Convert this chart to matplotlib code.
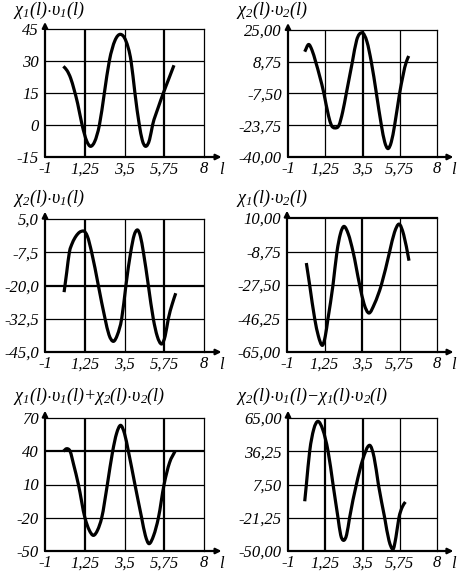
import matplotlib
matplotlib.use('Agg')
import matplotlib.pyplot as plt
from matplotlib.path import Path
from matplotlib.patches import PathPatch

# Step 1: Fonts (italic serif everywhere, like the scanned figure)
plt.rcParams['font.family'] = 'Liberation Serif'
plt.rcParams['font.style'] = 'italic'
plt.rcParams['mathtext.fontset'] = 'custom'
plt.rcParams['mathtext.it'] = 'Liberation Serif:italic'
plt.rcParams['mathtext.rm'] = 'Liberation Serif:italic'

# Step 2: Data
x_ticks = [-1, 1.25, 3.5, 5.75, 8]
x_tick_labels = ['-1', '1,25', '3,5', '5,75', '8']

titles = [
    r'$\chi_1(l){\cdot}\upsilon_1(l)$',
    r'$\chi_2(l){\cdot}\upsilon_2(l)$',
    r'$\chi_2(l){\cdot}\upsilon_1(l)$',
    r'$\chi_1(l){\cdot}\upsilon_2(l)$',
    r'$\chi_1(l){\cdot}\upsilon_1(l){+}\chi_2(l){\cdot}\upsilon_2(l)$',
    r'$\chi_2(l){\cdot}\upsilon_1(l){-}\chi_1(l){\cdot}\upsilon_2(l)$',
]

p1_yticks = [-15, 0, 15, 30, 45]
p1_ylabels = ['-15', '0', '15', '30', '45']
p2_yticks = [-40, -23.75, -7.5, 8.75, 25]
p2_ylabels = ['-40,00', '-23,75', '-7,50', '8,75', '25,00']
p3_yticks = [-45, -32.5, -20, -7.5, 5]
p3_ylabels = ['-45,0', '-32,5', '-20,0', '-7,5', '5,0']
p4_yticks = [-65, -46.25, -27.5, -8.75, 10]
p4_ylabels = ['-65,00', '-46,25', '-27,50', '-8,75', '10,00']
p5_yticks = [-50, -20, 10, 40, 70]
p5_ylabels = ['-50', '-20', '10', '40', '70']
p6_yticks = [-50, -21.25, 7.5, 36.25, 65]
p6_ylabels = ['-50,00', '-21,25', '7,50', '36,25', '65,00']

p1_x = [0.04, 0.25, 0.45, 0.65, 0.85, 1.10, 1.36, 1.58, 1.81, 2.08, 2.36, 2.64, 2.96, 3.26,
        3.57, 3.87, 4.09, 4.34, 4.50, 4.70, 4.92, 5.09, 5.40, 5.70, 6.00, 6.30]
p1_y = [27.5, 25.5, 22.0, 16.5, 10.0, 0.0, -7.5, -10.0, -7.8, 0.0, 15.0, 30.0, 39.6, 42.5,
        39.6, 30.0, 15.0, 0.0, -6.9, -10.0, -6.8, 0.0, 8.0, 15.0, 21.5, 28.0]

p2_x = [0.01, 0.25, 0.45, 0.67, 1.17, 1.45, 1.62, 1.82, 2.08, 2.30, 2.52, 2.89, 3.15,
        3.47, 3.77, 4.03, 4.34, 4.64, 4.84, 5.04, 5.24, 5.44, 5.74, 6.15, 6.29]
p2_y = [13.9, 17.6, 14.7, 8.75, -7.5, -19.0, -23.75, -25.1, -23.75, -17.0, -7.5, 8.75, 19.9,
        23.6, 19.0, 8.75, -7.5, -23.75, -32.3, -35.7, -32.3, -23.75, -7.5, 8.75, 11.7]

p3_x = [0.08, 0.23, 0.38, 0.55, 0.75, 0.95, 1.17, 1.40, 1.64, 2.02, 2.40, 2.62, 2.87,
        3.10, 3.34, 3.58, 3.85, 4.05, 4.23, 4.40, 4.57, 4.85, 5.13, 5.35, 5.60,
        5.80, 5.98, 6.20, 6.40]
p3_y = [-22.5, -15.0, -7.5, -4.0, -1.5, 0.0, 0.5, -1.5, -7.5, -20.0, -32.5, -38.5, -41.0,
        -38.5, -32.5, -20.0, -7.5, -1.0, 0.9, -1.5, -7.5, -20.0, -32.5, -39.0, -42.0,
        -39.0, -32.5, -27.0, -22.9]

p4_x = [0.16, 0.36, 0.66, 0.88, 1.12, 1.30, 1.46, 1.76, 2.00, 2.20, 2.42, 2.68,
        2.96, 3.36, 3.62, 3.92, 4.25, 4.66, 5.16, 5.45, 5.72, 6.00, 6.32]
p4_y = [-15.2, -27.5, -46.25, -56.0, -61.3, -56.0, -46.25, -27.5, -8.75, 1.0, 5.3, 1.0,
        -8.75, -27.5, -38.0, -43.2, -38.0, -27.5, -8.75, 2.0, 6.6, 0.7, -13.9]

p5_x = [0.04, 0.23, 0.42, 0.62, 0.89, 1.26, 1.50, 1.74, 1.98, 2.21, 2.53, 2.83, 3.05,
        3.28, 3.50, 3.72, 4.09, 4.47, 4.68, 4.89, 5.15, 5.42, 5.74, 6.05, 6.36]
p5_y = [40.0, 42.3, 40.0, 28.0, 10.0, -20.0, -31.0, -35.9, -31.0, -20.0, 10.0, 40.0, 56.0,
        63.4, 56.0, 40.0, 10.0, -20.0, -36.0, -43.4, -36.0, -20.0, 10.0, 29.7, 40.0]

p6_x = [0.01, 0.11, 0.31, 0.55, 0.81, 1.10, 1.42, 1.72, 2.02, 2.18, 2.36, 2.54, 2.72,
        3.13, 3.50, 3.93, 4.20, 4.46, 4.84, 5.10, 5.34, 5.52, 5.70, 5.90, 6.09]
p6_y = [-7.0, 7.5, 36.25, 55.0, 62.1, 55.0, 36.25, 7.5, -21.25, -36.0, -40.8, -36.0, -21.25,
        7.5, 28.4, 41.4, 31.0, 7.5, -21.25, -41.0, -48.5, -38.0, -21.25, -12.0, -7.6]

# Step 3: Layout (pixel boxes left, top, right, bottom) and thicker grid lines
W, H = 461, 571
boxes = [(45, 29, 204, 157), (288, 30, 437, 157),
         (45, 219, 204, 352), (287, 218, 437, 352),
         (45, 418, 204, 551), (288, 418, 437, 551)]
title_pos = [(13, 10), (236, 10), (13, 198), (236, 198), (13, 396), (236, 396)]
thick_v = [[1.25, 5.75], [3.5], [1.25, 5.75], [3.5], [1.25, 5.75], [1.25, 3.5]]
thick_h = [[], [], [-20], [10], [40], []]

panels = [
    (p1_x, p1_y, p1_yticks, p1_ylabels),
    (p2_x, p2_y, p2_yticks, p2_ylabels),
    (p3_x, p3_y, p3_yticks, p3_ylabels),
    (p4_x, p4_y, p4_yticks, p4_ylabels),
    (p5_x, p5_y, p5_yticks, p5_ylabels),
    (p6_x, p6_y, p6_yticks, p6_ylabels),
]


def smooth_path(xs, ys):
    # cubic Bezier through the read points, flat at the read extrema
    n = len(xs)
    h = [xs[k + 1] - xs[k] for k in range(n - 1)]
    d = [(ys[k + 1] - ys[k]) / h[k] for k in range(n - 1)]
    m = [d[0]]
    for k in range(1, n - 1):
        if d[k - 1] * d[k] <= 0:
            m.append(0.0)
        else:
            m.append((h[k] * d[k - 1] + h[k - 1] * d[k]) / (h[k - 1] + h[k]))
    m.append(d[-1])
    verts = [(xs[0], ys[0])]
    codes = [Path.MOVETO]
    for k in range(n - 1):
        verts.append((xs[k] + h[k] / 3, ys[k] + m[k] * h[k] / 3))
        verts.append((xs[k + 1] - h[k] / 3, ys[k + 1] - m[k + 1] * h[k] / 3))
        verts.append((xs[k + 1], ys[k + 1]))
        codes += [Path.CURVE4] * 3
    return Path(verts, codes)


# Step 4: Draw
fig = plt.figure(figsize=(W / 100, H / 100), dpi=100)

for i, (xs, ys, yt, yl) in enumerate(panels):
    left, top, right, bottom = boxes[i]
    ax = fig.add_axes([left / W, 1 - bottom / H, (right - left) / W, (bottom - top) / H])
    ax.set_xlim(-1, 8)
    ax.set_ylim(yt[0], yt[-1])
    ax.set_xticks(x_ticks)
    ax.set_xticklabels(x_tick_labels, fontstyle='italic')
    ax.set_yticks(yt)
    ax.set_yticklabels(yl, fontstyle='italic')
    ax.tick_params(length=0, labelsize=12)
    ax.tick_params(axis='y', pad=4.5)
    ax.tick_params(axis='x', pad=3)

    # grid
    for v in x_ticks[1:-1]:
        ax.axvline(v, color='k', lw=1.6 if v in thick_v[i] else 0.9, zorder=1)
    for v in yt[1:-1]:
        ax.axhline(v, color='k', lw=1.6 if v in thick_h[i] else 0.9, zorder=1)

    ax.spines['left'].set_visible(False)
    ax.spines['bottom'].set_visible(False)
    ax.spines['top'].set_linewidth(1.6 if yt[-1] in thick_h[i] else 0.9)
    ax.spines['right'].set_linewidth(0.9)

    # axes with arrows
    ax.annotate('', xy=(1.11, 0), xytext=(0, 0), xycoords='axes fraction',
                arrowprops=dict(arrowstyle='-|>', color='k', lw=1.6,
                                mutation_scale=8, shrinkA=0, shrinkB=0),
                annotation_clip=False)
    ax.annotate('', xy=(0, 1.055), xytext=(0, 0), xycoords='axes fraction',
                arrowprops=dict(arrowstyle='-|>', color='k', lw=1.6,
                                mutation_scale=8, shrinkA=0, shrinkB=0),
                annotation_clip=False)
    ax.text(1.11, -13 / (bottom - top), 'l', transform=ax.transAxes,
            fontsize=12, fontstyle='italic', ha='center', va='center')

    curve = PathPatch(smooth_path(xs, ys), facecolor='none', edgecolor='k', lw=2.3,
                      joinstyle='round', capstyle='butt', zorder=4, clip_on=False)
    ax.add_patch(curve)

    tx, ty = title_pos[i]
    fig.text(tx / W, 1 - ty / H, titles[i], fontsize=13, ha='left', va='center')

fig.savefig('out.png', dpi=100)
